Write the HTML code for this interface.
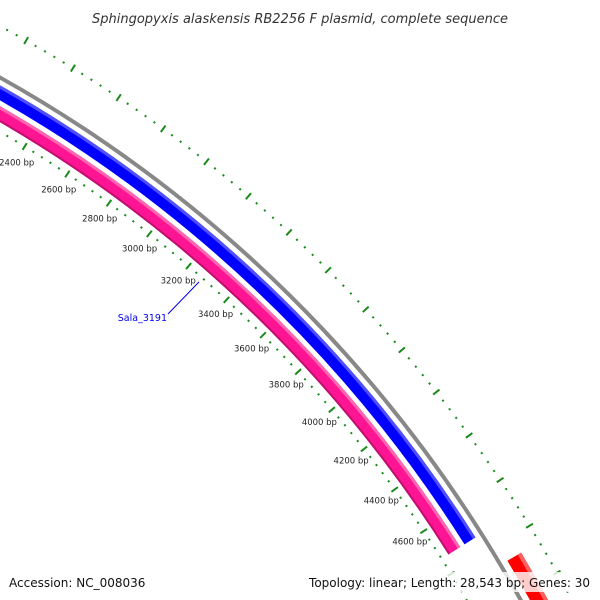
<!DOCTYPE html>
<html><head><meta charset="utf-8"><style>
html,body{margin:0;background:#fff;width:600px;height:600px;overflow:hidden}
svg{display:block;overflow:hidden;font-family:"DejaVu Sans","Liberation Sans",sans-serif}
</style></head><body>
<svg id="c" width="600" height="600" viewBox="0 0 600 600">
<rect width="600" height="600" fill="#fff"/>
<g id="ticks"></g>
<g id="tracks"></g>
<g id="labels"></g>
<text x="300" y="23" text-anchor="middle" font-size="13" font-style="italic" fill="#333">Sphingopyxis alaskensis RB2256 F plasmid, complete sequence</text>
<rect x="4" y="572" width="130" height="20" fill="#fff" fill-opacity="0.8"/>
<text x="9" y="587" font-size="12" fill="#111">Accession: NC_008036</text>
<rect x="306" y="572" width="290" height="20" fill="#fff" fill-opacity="0.8"/>
<text x="590" y="587" text-anchor="end" font-size="12" fill="#111">Topology: linear; Length: 28,543 bp; Genes: 30</text>
</svg>
<script>
const tickLabels = [2400, 2600, 2800, 3000, 3200, 3400, 3600, 3800, 4000, 4200, 4400, 4600];
const featureNames = ["pink-reverse-gene", "blue-forward-gene", "red-outer-gene"];
const featureStarts = [1500, 1500, 4869];
const featureEnds = [4730, 4730, 6000];
const geneLabel = ["Sala_3191"];
const geneLabelBp = [3272];

const NS = "http://www.w3.org/2000/svg";
const cx = -658, cy = 1254;
function ang(bp){ return (31.65 + (bp - 2400) * 0.01118) * Math.PI / 180; }
function pt(bp, r){ const a = ang(bp); return [cx + r * Math.sin(a), cy - r * Math.cos(a)]; }
function mk(tag, attrs, parent){ const e = document.createElementNS(NS, tag); for (const k in attrs) e.setAttribute(k, attrs[k]); parent.appendChild(e); return e; }
function arc(b0, b1, r){ const p0 = pt(b0, r), p1 = pt(b1, r); return `M${p0[0]},${p0[1]} A${r},${r} 0 0 1 ${p1[0]},${p1[1]}`; }

const tg = document.getElementById('ticks');
for (let bp = 1600; bp <= 6000; bp += 40) {
  const major = bp % 200 === 0;
  [[1301, major ? 4 : 1], [1393, major ? 4 : 1]].forEach(([r, h], i) => {
    const a = pt(bp, r - h), b = pt(bp, r + h);
    const l = mk('line', {x1:a[0], y1:a[1], x2:b[0], y2:b[1], stroke:'#1a8a1a', 'stroke-width': 2}, tg);
    
    
  });
}

const tr = document.getElementById('tracks');
const bbn = mk('path', {d: arc(1500, 6000, 1348), fill:'none', stroke:'#888', 'stroke-width': 4}, tr);


const styles = [
  [[1316, 14, '#ff1493'], [1321.5, 3, '#ff66b0'], [1310, 2, '#c0106f']],
  [[1334.5, 13, '#0000ff'], [1339.5, 3, '#5050ff']],
  [[1364, 16, '#ff0000'], [1370, 4, '#ff6060']]
];
featureNames.forEach((n, i) => {
  styles[i].forEach(([r, w, c]) => {
    const p = mk('path', {d: arc(featureStarts[i], featureEnds[i], r), fill:'none', stroke:c, 'stroke-width': w}, tr);
    
    
  });
});

const lg = document.getElementById('labels');
tickLabels.forEach(bp => {
  const p = pt(bp, 1282);
  const t = mk('text', {x:p[0] + 2, y:p[1] + 3, 'text-anchor':'middle', 'font-size': 8.5, fill:'#222'}, lg);
  t.textContent = bp + ' bp';
  
  
});
geneLabel.forEach((g, i) => {
  const p = pt(geneLabelBp[i], 1296);
  const l = mk('line', {x1:p[0], y1:p[1], x2:168, y2:314, stroke:'#0000ee', 'stroke-width': 1}, lg);
  
  
  const t = mk('text', {x:167, y:321, 'text-anchor':'end', 'font-size': 9.5, fill:'#0000ee'}, lg);
  t.textContent = g;
  
  
});
</script>
</body></html>
